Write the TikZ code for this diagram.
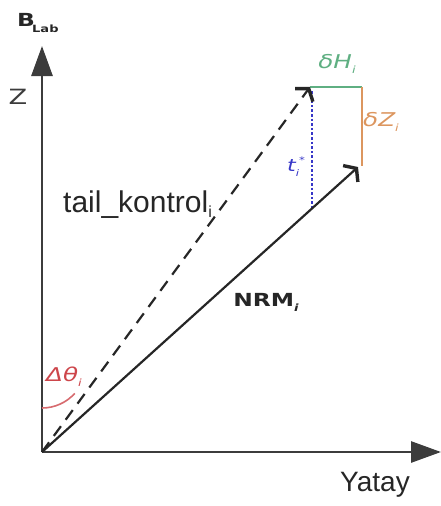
\documentclass[tikz,border=0pt]{standalone}
\usepackage{fontspec}
\setmainfont{Liberation Sans}
\newfontfamily\gothic[FakeStretch=1.3]{DejaVu Sans}
\usetikzlibrary{arrows.meta}
\definecolor{axisgray}{RGB}{60,60,60}
\definecolor{dhgreen}{RGB}{95,175,130}
\definecolor{dzorange}{RGB}{220,150,95}
\definecolor{tblue}{RGB}{55,55,200}
\definecolor{thred}{RGB}{205,70,75}
\tikzset{
  axis/.style={line width=2.8pt, draw=axisgray, -{Triangle[length=30pt,width=21pt]}},
  vec/.style={line width=2.2pt, draw=black!85, -{Straight Barb[length=8pt,width=22pt,line width=3.4pt]}},
  lbl/.style={inner sep=0pt, font=\gothic},
}
\begin{document}
\begin{tikzpicture}[x=1pt,y=-1pt]
\useasboundingbox (0,0) rectangle (441,506);
\coordinate (O) at (42,452);
\coordinate (Ztop) at (42,46);
\coordinate (Xend) at (441,452);
\coordinate (D) at (310,87);
\coordinate (N) at (358,167);
\coordinate (C) at (362,87);
\coordinate (Cb) at (362,166);
\coordinate (Ft) at (312,91);
\coordinate (Fb) at (312,208);
% axes
\draw[axis] (O) -- (Ztop);
\draw[axis] (O) -- (Xend);
% components
\draw[dhgreen, line width=1.8pt] (D) -- (C);
\draw[dzorange, line width=1.8pt] (C) -- (Cb);
\draw[tblue, line width=2.6pt, dotted] (Ft) -- (Fb);
% vectors
\draw[vec, dashed, dash pattern=on 12pt off 8pt] (O) -- (D);
\draw[vec] (O) -- (N);
% angle arc
\draw[thred!80, line width=1.6pt] (42,408) arc[start angle=90, end angle=42, radius=44];
% labels
\node[lbl, font=\gothic\bfseries\fontsize{18}{18}\selectfont, text=black!85] (blab) at (26,20) {B};
\node[lbl, font=\gothic\bfseries\fontsize{10}{10}\selectfont, text=black!85, anchor=west] (lab) at (32,29) {Lab};
\node[lbl, font=\gothic\fontsize{21}{21}\selectfont, text=axisgray] (zlab) at (18,97) {Z};
\node[lbl, font=\fontsize{30}{30}\selectfont, text=black!85, anchor=base west] (tk) at (63,212) {tail\_kontrol\raisebox{-5pt}{\fontsize{16}{16}\selectfont i}};
\node[lbl, font=\gothic\bfseries\fontsize{18}{18}\selectfont, text=black!85] (nrm) at (266,302) {NRM\raisebox{-5pt}{\fontsize{10}{10}\selectfont\itshape i}};
\node[lbl, font=\gothic\itshape\fontsize{19}{19}\selectfont, text=dhgreen] (dh) at (337,64) {δH\raisebox{-5pt}{\fontsize{10}{10}\selectfont i}};
\node[lbl, font=\gothic\itshape\fontsize{19}{19}\selectfont, text=dzorange] (dz) at (381,122) {δZ\raisebox{-5pt}{\fontsize{10}{10}\selectfont i}};
\node[lbl, font=\gothic\itshape\fontsize{17}{17}\selectfont, text=tblue] (ti) at (296,167) {t\raisebox{-5pt}{\fontsize{9}{9}\selectfont i}\raisebox{8pt}{\fontsize{9}{9}\selectfont *}};
\node[lbl, font=\gothic\itshape\fontsize{19}{19}\selectfont, text=thred] (dth) at (64,377) {Δθ\raisebox{-5pt}{\fontsize{10}{10}\selectfont i}};
\node[lbl, font=\fontsize{28}{28}\selectfont, text=black!85] (yat) at (375,485) {Yatay};
\end{tikzpicture}
\end{document}
